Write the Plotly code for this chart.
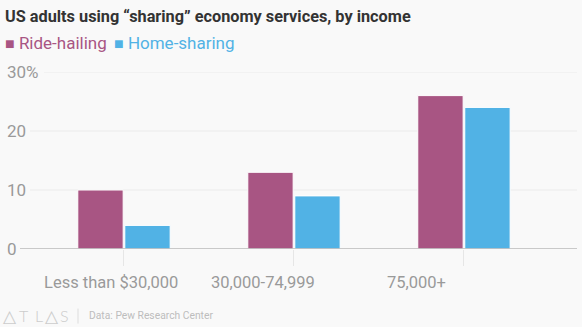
import plotly.graph_objects as go

# Share of US adults using each service, by household income (%)
income_groups = ["Less than $30,000", "30,000-74,999", "75,000+"]
ride_hailing = [10, 13, 26]
home_sharing = [4, 9, 24]

y_tick_vals = [0, 10, 20, 30]
y_tick_text = ["0", "10", "20", "30%"]

PURPLE = "#a85583"
BLUE = "#51b2e5"
GRAY_TEXT = "#9a9a9a"
BG = "#f9f9f9"
FONT = "Roboto, 'Liberation Sans', sans-serif"

W, H = 582, 327
PLOT_L, PLOT_R = 5, 577
PLOT_T, PLOT_B = 72, 249.3


def px_x(p):
    return (p - PLOT_L) / (PLOT_R - PLOT_L)


def px_y(p):
    return (PLOT_B - p) / (PLOT_B - PLOT_T)


fig = go.Figure()
fig.add_trace(go.Bar(x=income_groups, y=ride_hailing, name="Ride-hailing",
                     marker=dict(color=PURPLE, line=dict(color="white", width=1))))
fig.add_trace(go.Bar(x=income_groups, y=home_sharing, name="Home-sharing",
                     marker=dict(color=BLUE, line=dict(color="white", width=1))))

shapes = []
# light gridlines that begin just after each tick label
grid_starts = {10: 30, 20: 30, 30: 44}
for v, start in grid_starts.items():
    shapes.append(dict(type="line", xref="paper", yref="y", x0=px_x(start), x1=1,
                       y0=v, y1=v, line=dict(color="#ebebeb", width=1), layer="below"))
# baseline
shapes.append(dict(type="line", xref="paper", yref="y", x0=px_x(20), x1=1, y0=0, y1=0,
                   line=dict(color="#b8b8b8", width=1.5), layer="above"))
# footer separator
shapes.append(dict(type="line", xref="paper", yref="paper", x0=px_x(78), x1=px_x(78),
                   y0=px_y(309), y1=px_y(324), line=dict(color="#dddddd", width=1)))

annotations = []
# y tick labels, left aligned at the chart edge
for v, t in zip(y_tick_vals, y_tick_text):
    annotations.append(dict(
        xref="paper", yref="y", x=0, y=v, xanchor="left", yanchor="middle",
        showarrow=False, text=t, font=dict(family=FONT, size=17, color=GRAY_TEXT)))

# legend
legend_items = [("Ride-hailing", PURPLE, 3), ("Home-sharing", BLUE, 112)]
for name, color, x0 in legend_items:
    annotations.append(dict(
        xref="paper", yref="paper", x=px_x(x0), y=px_y(43), xanchor="left", yanchor="middle",
        showarrow=False,
        text=f"<span style='font-size:16px'>■</span> {name}",
        font=dict(family=FONT, size=17, color=color)))

# category labels under the axis
label_offsets = [-0.076, -0.18, -0.28]
for i, (lab, off) in enumerate(zip(income_groups, label_offsets)):
    annotations.append(dict(
        xref="x", yref="paper", x=i + off, y=px_y(283), xanchor="center", yanchor="middle",
        showarrow=False, text=lab, font=dict(family=FONT, size=16.5, color=GRAY_TEXT)))

# footer: wordmark drawn letter by letter, then the source note
wordmark = [("△", 9.5, 17), ("T", 23.5, 16), ("L", 39, 16), ("△", 51.5, 17), ("S", 64, 16)]
for ch, cx, sz in wordmark:
    annotations.append(dict(xref="paper", yref="paper", x=px_x(cx), y=px_y(316),
                            xanchor="center", yanchor="middle", showarrow=False, text=ch,
                            font=dict(family="Lato, 'DejaVu Sans', sans-serif", size=sz,
                                      weight=300, color="#cccccc")))
annotations.append(dict(xref="paper", yref="paper", x=px_x(87), y=px_y(316),
                        xanchor="left", yanchor="middle", showarrow=False,
                        text="Data: Pew Research Center",
                        font=dict(family=FONT, size=10.3, color="#bdbdbd")))

fig.update_layout(
    width=W, height=H,
    margin=dict(l=PLOT_L, r=W - PLOT_R, t=PLOT_T, b=H - PLOT_B),
    paper_bgcolor=BG, plot_bgcolor=BG,
    showlegend=False,
    barmode="group", bargap=0.447, bargroupgap=0.035,
    title=dict(text="<b>US adults using “sharing” economy services, by income</b>",
               x=5 / W, xanchor="left", xref="container",
               y=1 - 16 / H, yanchor="middle", yref="container",
               font=dict(family=FONT, size=16.3, color="#333333")),
    xaxis=dict(type="category", range=[-0.7, 2.665], showticklabels=False,
               ticks="outside", ticklen=16, tickcolor="#e6e6e6", tickwidth=1,
               showgrid=False, zeroline=False, showline=False, fixedrange=True),
    yaxis=dict(range=[0, 30], showticklabels=False, ticks="",
               showgrid=False, zeroline=False, showline=False, fixedrange=True),
    shapes=shapes, annotations=annotations,
)

fig.write_html("out.html")
